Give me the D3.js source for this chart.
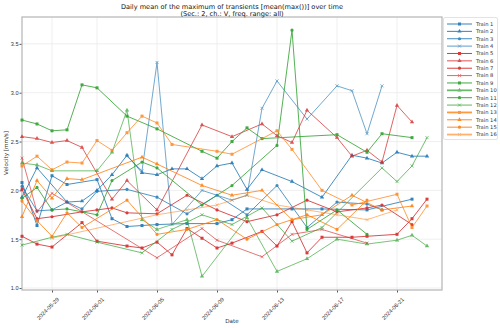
<!DOCTYPE html>
<html><head><meta charset="utf-8">
<script src="https://cdn.jsdelivr.net/npm/d3@7"></script>
<style>body{margin:0;background:#fff}svg{font-family:"DejaVu Sans",sans-serif}</style>
</head><body>
<svg id="c" width="500" height="328"></svg>
<script>
const startDate = "2024-05-27";
const nDays = 28;
const xTicks = ["2024-05-29","2024-06-01","2024-06-05","2024-06-09","2024-06-13","2024-06-17","2024-06-21"];
const yTicks = [1.0,1.5,2.0,2.5,3.0,3.5];
const trainNames = ["Train 1","Train 2","Train 3","Train 4","Train 5","Train 6","Train 7","Train 8","Train 9","Train 10","Train 11","Train 12","Train 13","Train 14","Train 15","Train 16"];
const N = null;
const train1  = [2.08,1.64,2.15,2.06,N,2.11,1.71,1.63,1.64,1.65,N,1.66,N,1.66,1.70,1.81,N,N,1.81,N,1.81,N,N,1.80,N,N,1.91,N];
const train2  = [1.93,2.23,N,1.88,1.89,2.00,2.16,2.36,2.18,2.16,2.22,2.22,2.12,2.25,2.28,2.01,2.21,N,2.09,N,1.93,N,2.36,2.33,2.28,2.39,2.35,2.35];
const train3  = [2.04,1.79,1.80,1.88,1.81,1.99,N,2.01,N,1.93,N,1.76,N,1.95,N,1.75,N,2.05,N,1.62,N,1.88,N,1.86,1.80,N,N,N];
const train4  = [N,N,N,N,N,N,N,2.35,2.20,3.31,1.65,N,2.00,N,1.90,1.95,2.84,3.12,N,2.73,N,3.07,3.02,2.58,3.07,N,N,N];
const train5  = [1.53,1.45,1.42,N,1.67,1.48,N,1.43,1.41,1.47,1.34,1.61,1.51,1.41,1.46,N,1.58,1.43,1.68,1.36,1.52,N,1.52,1.53,N,1.55,1.71,1.91];
const train6  = [2.55,2.53,2.49,2.51,2.44,N,1.91,2.10,N,1.80,N,N,2.67,N,2.55,N,2.68,2.56,2.49,2.82,N,2.54,2.35,2.41,2.29,2.87,2.70,N];
const train7  = [2.01,1.71,1.73,N,1.78,1.80,1.82,1.77,N,1.76,N,1.95,N,1.80,N,1.68,N,1.75,N,1.90,N,1.78,N,1.82,1.85,N,1.65,N];
const train8  = [2.33,1.78,1.97,N,N,N,N,N,N,1.31,N,N,1.61,1.49,N,N,1.32,N,1.55,N,1.60,N,N,1.46,N,N,N,N];
const train9  = [2.72,2.68,2.61,2.62,3.08,3.05,N,2.76,N,2.63,N,N,2.40,2.33,2.50,2.64,2.53,N,N,N,N,2.57,N,2.39,2.58,N,2.54,N];
const train10 = [2.28,2.26,2.20,N,N,2.20,2.39,2.82,1.70,1.60,N,1.70,1.12,N,N,1.72,N,1.17,N,1.30,N,1.50,N,1.45,N,1.49,1.54,1.43];
const train11 = [1.92,2.03,1.80,1.81,N,1.75,2.10,N,2.29,2.23,N,N,1.85,N,2.05,N,N,2.46,3.64,1.60,N,1.80,N,1.55,N,N,N,N];
const train12 = [1.44,N,1.52,1.55,N,1.47,N,N,1.36,N,1.60,N,1.75,N,1.65,N,1.82,N,1.48,N,1.62,N,N,N,2.23,2.09,2.25,2.54];
const train13 = [2.25,2.35,2.21,2.29,2.28,2.51,2.41,2.59,2.76,2.69,2.47,N,N,2.40,2.37,N,N,2.61,2.42,N,2.00,N,1.85,N,N,1.96,1.62,1.84];
const train14 = [1.73,2.10,1.92,2.12,2.11,N,N,N,2.34,2.27,N,N,2.05,N,1.95,N,2.00,N,1.70,N,1.75,N,1.95,N,1.80,N,1.84,N];
const train15 = [1.89,1.69,1.53,1.77,1.62,N,N,1.90,N,1.55,N,1.60,N,1.70,N,1.50,N,1.65,N,1.75,N,1.60,N,1.90,N,N,N,N];
const train16 = [N,N,1.51,N,N,N,N,N,N,1.75,N,1.80,N,1.85,N,1.95,N,1.85,N,1.80,N,1.75,N,1.70,N,1.80,N,N];
const seriesValues = [train1,train2,train3,train4,train5,train6,train7,train8,train9,train10,train11,train12,train13,train14,train15,train16];
const groupColors = ["#1f77b4","#d62728","#2ca02c","#ff7f0e"];
const markerTypes = ["square","triangle","circle","x"];
const alphas = [0.9,0.9,0.85,0.7, 0.9,0.8,0.9,0.7, 0.9,0.7,0.9,0.75, 0.8,0.9,0.9,0.6];
const widths = [0.9,0.9,0.9,0.9, 0.9,0.9,0.9,0.9, 0.9,0.9,0.9,0.9, 0.9,0.9,0.9,0.9];
const legendWidths = [1,1,1,1, 1,1,1,1, 1,1.8,1,1, 1.8,1,1,1.8];

const svg = d3.select("#c");
const M = {l:22, r:442, t:17, b:290};
const t0 = d3.timeParse("%Y-%m-%d")(startDate);
const dayMs = 86400000;
const x = d3.scaleTime().domain([t0, new Date(t0.getTime()+28*dayMs)]).range([M.l, M.r]);
const y = d3.scaleLinear().domain([0.98, 3.775]).range([M.b, M.t]);
const parse = d3.timeParse("%Y-%m-%d");

const g = svg.append("g");
g.selectAll("line.yg").data(yTicks).join("line").attr("x1",M.l).attr("x2",M.r)
 .attr("y1",d=>y(d)).attr("y2",d=>y(d)).attr("stroke","#ebebeb").attr("stroke-width",0.8);
g.selectAll("line.xg").data(xTicks).join("line").attr("y1",M.t).attr("y2",M.b)
 .attr("x1",d=>x(parse(d))).attr("x2",d=>x(parse(d))).attr("stroke","#ebebeb").attr("stroke-width",0.8);

const xAxis = d3.axisBottom(x).tickValues(xTicks.map(parse)).tickFormat(d3.timeFormat("%Y-%m-%d")).tickSize(2.5);
const xa = svg.append("g").attr("transform",`translate(0,${M.b})`).call(xAxis);
xa.select(".domain").remove();
xa.selectAll("line").attr("stroke","#555");
xa.selectAll("text").attr("font-size",5.6).attr("fill","#333").attr("text-anchor","end")
  .attr("dx",0).attr("dy",0).attr("transform","translate(3,6) rotate(-45)");
const yAxis = d3.axisLeft(y).tickValues(yTicks).tickFormat(d3.format(".1f")).tickSize(2.5);
const ya = svg.append("g").attr("transform",`translate(${M.l},0)`).call(yAxis);
ya.select(".domain").remove();
ya.selectAll("line").attr("stroke","#555");
ya.selectAll("text").attr("font-size",5.6).attr("fill","#333").attr("x",-3.5);

svg.append("rect").attr("x",M.l).attr("y",M.t).attr("width",M.r-M.l).attr("height",M.b-M.t)
 .attr("fill","none").attr("stroke","#b5b5b5").attr("stroke-width",1.2);

const line = d3.line().defined(d=>d.v!=null).x(d=>x(d.t)).y(d=>y(d.v));
const sym = {square:d3.symbolSquare, triangle:d3.symbolTriangle, circle:d3.symbolCircle};
function drawMarker(sel, type, color, cx, cy){
  if(type==="x"){
    const s=1.5;
    sel.append("path").attr("d",`M${cx-s},${cy-s}L${cx+s},${cy+s}M${cx-s},${cy+s}L${cx+s},${cy-s}`)
      .attr("stroke",color).attr("stroke-width",0.8).attr("fill","none");
  } else {
    const size = type==="square"?9:8;
    sel.append("path").attr("d",d3.symbol().type(sym[type]).size(size)()).attr("transform",`translate(${cx},${cy})`)
      .attr("fill",color);
  }
}
const plot = svg.append("g");
seriesValues.forEach((vals,i)=>{
  const pts = vals.map((v,k)=>({t:new Date(t0.getTime()+k*dayMs), v:v})).filter(d=>d.v!=null);
  const color = groupColors[Math.floor(i/4)];
  const gs = plot.append("g").attr("opacity",alphas[i]);
  gs.append("path").datum(pts).attr("d",line).attr("fill","none").attr("stroke",color).attr("stroke-width",widths[i]);
  pts.forEach(p=>drawMarker(gs, markerTypes[i%4], color, x(p.t), y(p.v)));
});

svg.append("text").attr("x",232).attr("y",8.5).attr("text-anchor","middle").attr("font-size",6.6).attr("fill","#111")
 .text("Daily mean of the maximum of transients [mean(max())] over time");
svg.append("text").attr("x",232).attr("y",15.5).attr("text-anchor","middle").attr("font-size",6.6).attr("fill","#111")
 .text("(Sec.: 2, ch.: V, freq. range: all)");
svg.append("text").attr("x",232).attr("y",323).attr("text-anchor","middle").attr("font-size",5.6).attr("fill","#333").text("Date");
svg.append("text").attr("transform","translate(8,153) rotate(-90)").attr("text-anchor","middle").attr("font-size",5.6).attr("fill","#333").text("Velocity [mm/s]");

const lg = svg.append("g");
lg.append("rect").attr("x",443.5).attr("y",17.5).attr("width",54).attr("height",122).attr("fill","#fff").attr("stroke","#d0d0d0").attr("stroke-width",0.6).attr("rx",1.5);
trainNames.forEach((name,i)=>{
  const yy = 24 + i*7.37;
  const color = groupColors[Math.floor(i/4)];
  const gi = lg.append("g").attr("opacity",alphas[i]);
  gi.append("line").attr("x1",447).attr("x2",472).attr("y1",yy).attr("y2",yy).attr("stroke",color).attr("stroke-width",legendWidths[i]);
  drawMarker(gi, markerTypes[i%4], color, 459.5, yy);
  lg.append("text").attr("x",476).attr("y",yy+1.9).attr("font-size",5.2).attr("fill","#333").text(name);
});
</script>
</body></html>
